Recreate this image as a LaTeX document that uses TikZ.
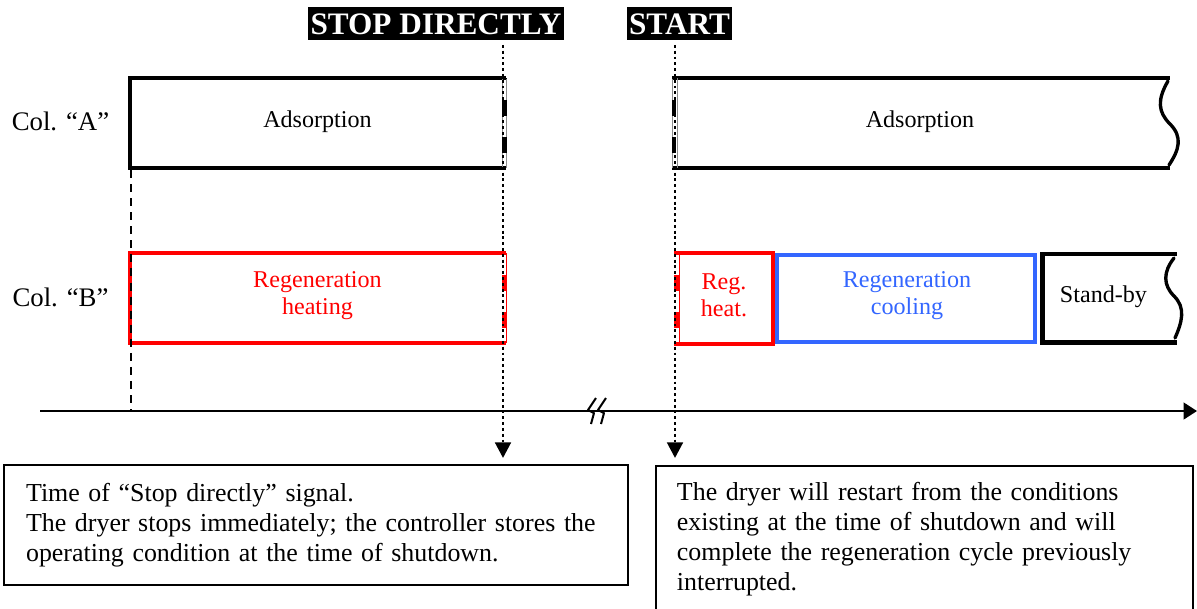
\documentclass[tikz,border=0pt]{standalone}
\usepackage{fontspec}
\setmainfont{Liberation Serif}
\usetikzlibrary{arrows.meta}
\definecolor{regred}{HTML}{FF0000}
\definecolor{coolblue}{HTML}{3366FF}

\begin{document}
\begin{tikzpicture}[x=0.448pt, y=-0.448pt,
  every node/.style={font=\fontsize{10.8}{12.1}\selectfont, align=center},
  phaseline/.style={line width=2.2pt},
  cutedge/.style={line width=2pt, dash pattern=on 7.2pt off 9.4pt, dash phase=6.7pt},
  seam/.style={line width=0.4pt},
  waveedge/.style={line width=1.5pt, line cap=round},
  collabel/.style={font=\fontsize{12}{14}\selectfont},
  signalbox/.style={fill=black, text=white, inner xsep=1pt, inner ysep=2.4pt, text height=10pt, text depth=0pt, font=\fontsize{14}{16}\selectfont\bfseries},
  signalline/.style={line width=1.3pt, dash pattern=on 1.3pt off 1.3pt, shorten <=2pt, -{Triangle[width=7pt,length=7pt]}},
  notebox/.style={draw, line width=0.9pt, anchor=north west, align=left, font=\fontsize{11.6}{13.4}\selectfont},
]
\clip (0,0) rectangle (1197,608);
\fill[white] (0,0) rectangle (1197,608);

% signals
\node[signalbox] (stop) at (436,23.5) {STOP DIRECTLY};
\node[signalbox] (start) at (679.5,23.5) {START};

% columns
\node[collabel] (colA) at (60.5,121) {Col. ``A''};
\node[collabel] (colB) at (60.5,297) {Col. ``B''};

% column A
\draw[phaseline] (506,78) -- (130,78) -- (130,168) -- (506,168);
\draw[seam, black!45] (502,78) -- (502,168) (506,78) -- (506,168);
\draw[cutedge] (504.5,78) -- (504.5,168);
\node (adsA1) at (317.5,122) {Adsorption};

\draw[phaseline] (672,78) -- (1170,78) (672,168) -- (1170,168);
\draw[seam, black!45] (672,78) -- (672,168) (677,78) -- (677,168);
\draw[cutedge] (674,78) -- (674,168);
\draw[waveedge] (1168,81) .. controls (1157,100) and (1158,112) .. (1170,124)
  .. controls (1183,137) and (1179,150) .. (1169,165);
\node (adsA2) at (920,122) {Adsorption};

% column B
\draw[regred, line width=1.8pt] (506,253) -- (130,253) -- (130,343) -- (506,343);
\draw[seam, regred] (506,253) -- (506,343);
\draw[cutedge, regred] (504,253) -- (504,343);
\node[text=regred] (heatB1) at (317.5,295.5) {Regeneration\\heating};

\draw[regred, line width=1.8pt] (674,253) -- (772.5,253) -- (772.5,344) -- (674,344);
\draw[seam, regred] (679,253) -- (679,344);
\draw[cutedge, regred] (676.5,253) -- (676.5,344);
\node[text=regred] (heatB2) at (724,295.5) {Reg.\\heat.};

\draw[coolblue, line width=1.8pt] (777,255) rectangle (1035,342);
\node[text=coolblue] (coolB) at (907,295.5) {Regeneration\\cooling};

\draw[phaseline] (1177,254) -- (1042.5,254) -- (1042.5,342.5) -- (1177,342.5);
\draw[waveedge] (1174,258) .. controls (1163,272) and (1163,285) .. (1174,296)
  .. controls (1186,308) and (1182,322) .. (1175,338);
\node (standB) at (1103.5,297) {Stand-by};

% time axis
\coordinate (t0) at (40,411);
\coordinate (t1) at (1197,411);
\draw[line width=0.9pt, -{Triangle[width=7.5pt,length=6pt]}] (t0) -- (t1);
\draw[line width=0.9pt, line join=round] (596,398) -- (588,410) -- (594,413) -- (591,424)
  (606,398) -- (598,410) -- (604,413) -- (601,424);

\coordinate (c0) at (131,170);
\draw[line width=1.1pt, dash pattern=on 3.6pt off 2.7pt] (c0) -- (c0 |- t0);

% signal lines
\coordinate (stoptip) at (503,458);
\coordinate (starttip) at (675,458);
\draw[signalline] (stop.south -| stoptip) -- (stoptip);
\draw[signalline] (start.south -| starttip) -- (starttip);

% notes
\node[notebox, inner xsep=9.9pt, text width=259.8pt, minimum height=53.8pt] (noteStop) at (3,464)
  {Time of ``Stop directly'' signal.\\The dryer stops immediately; the controller stores the\\operating condition at the time of shutdown.};
\node[notebox, inner xsep=9.4pt, inner ysep=7.3pt, text width=221.8pt, text depth=50pt] (noteStart) at (655,465)
  {The dryer will restart from the conditions\\existing at the time of shutdown and will\\complete the regeneration cycle previously\\interrupted.};
\end{tikzpicture}
\end{document}
